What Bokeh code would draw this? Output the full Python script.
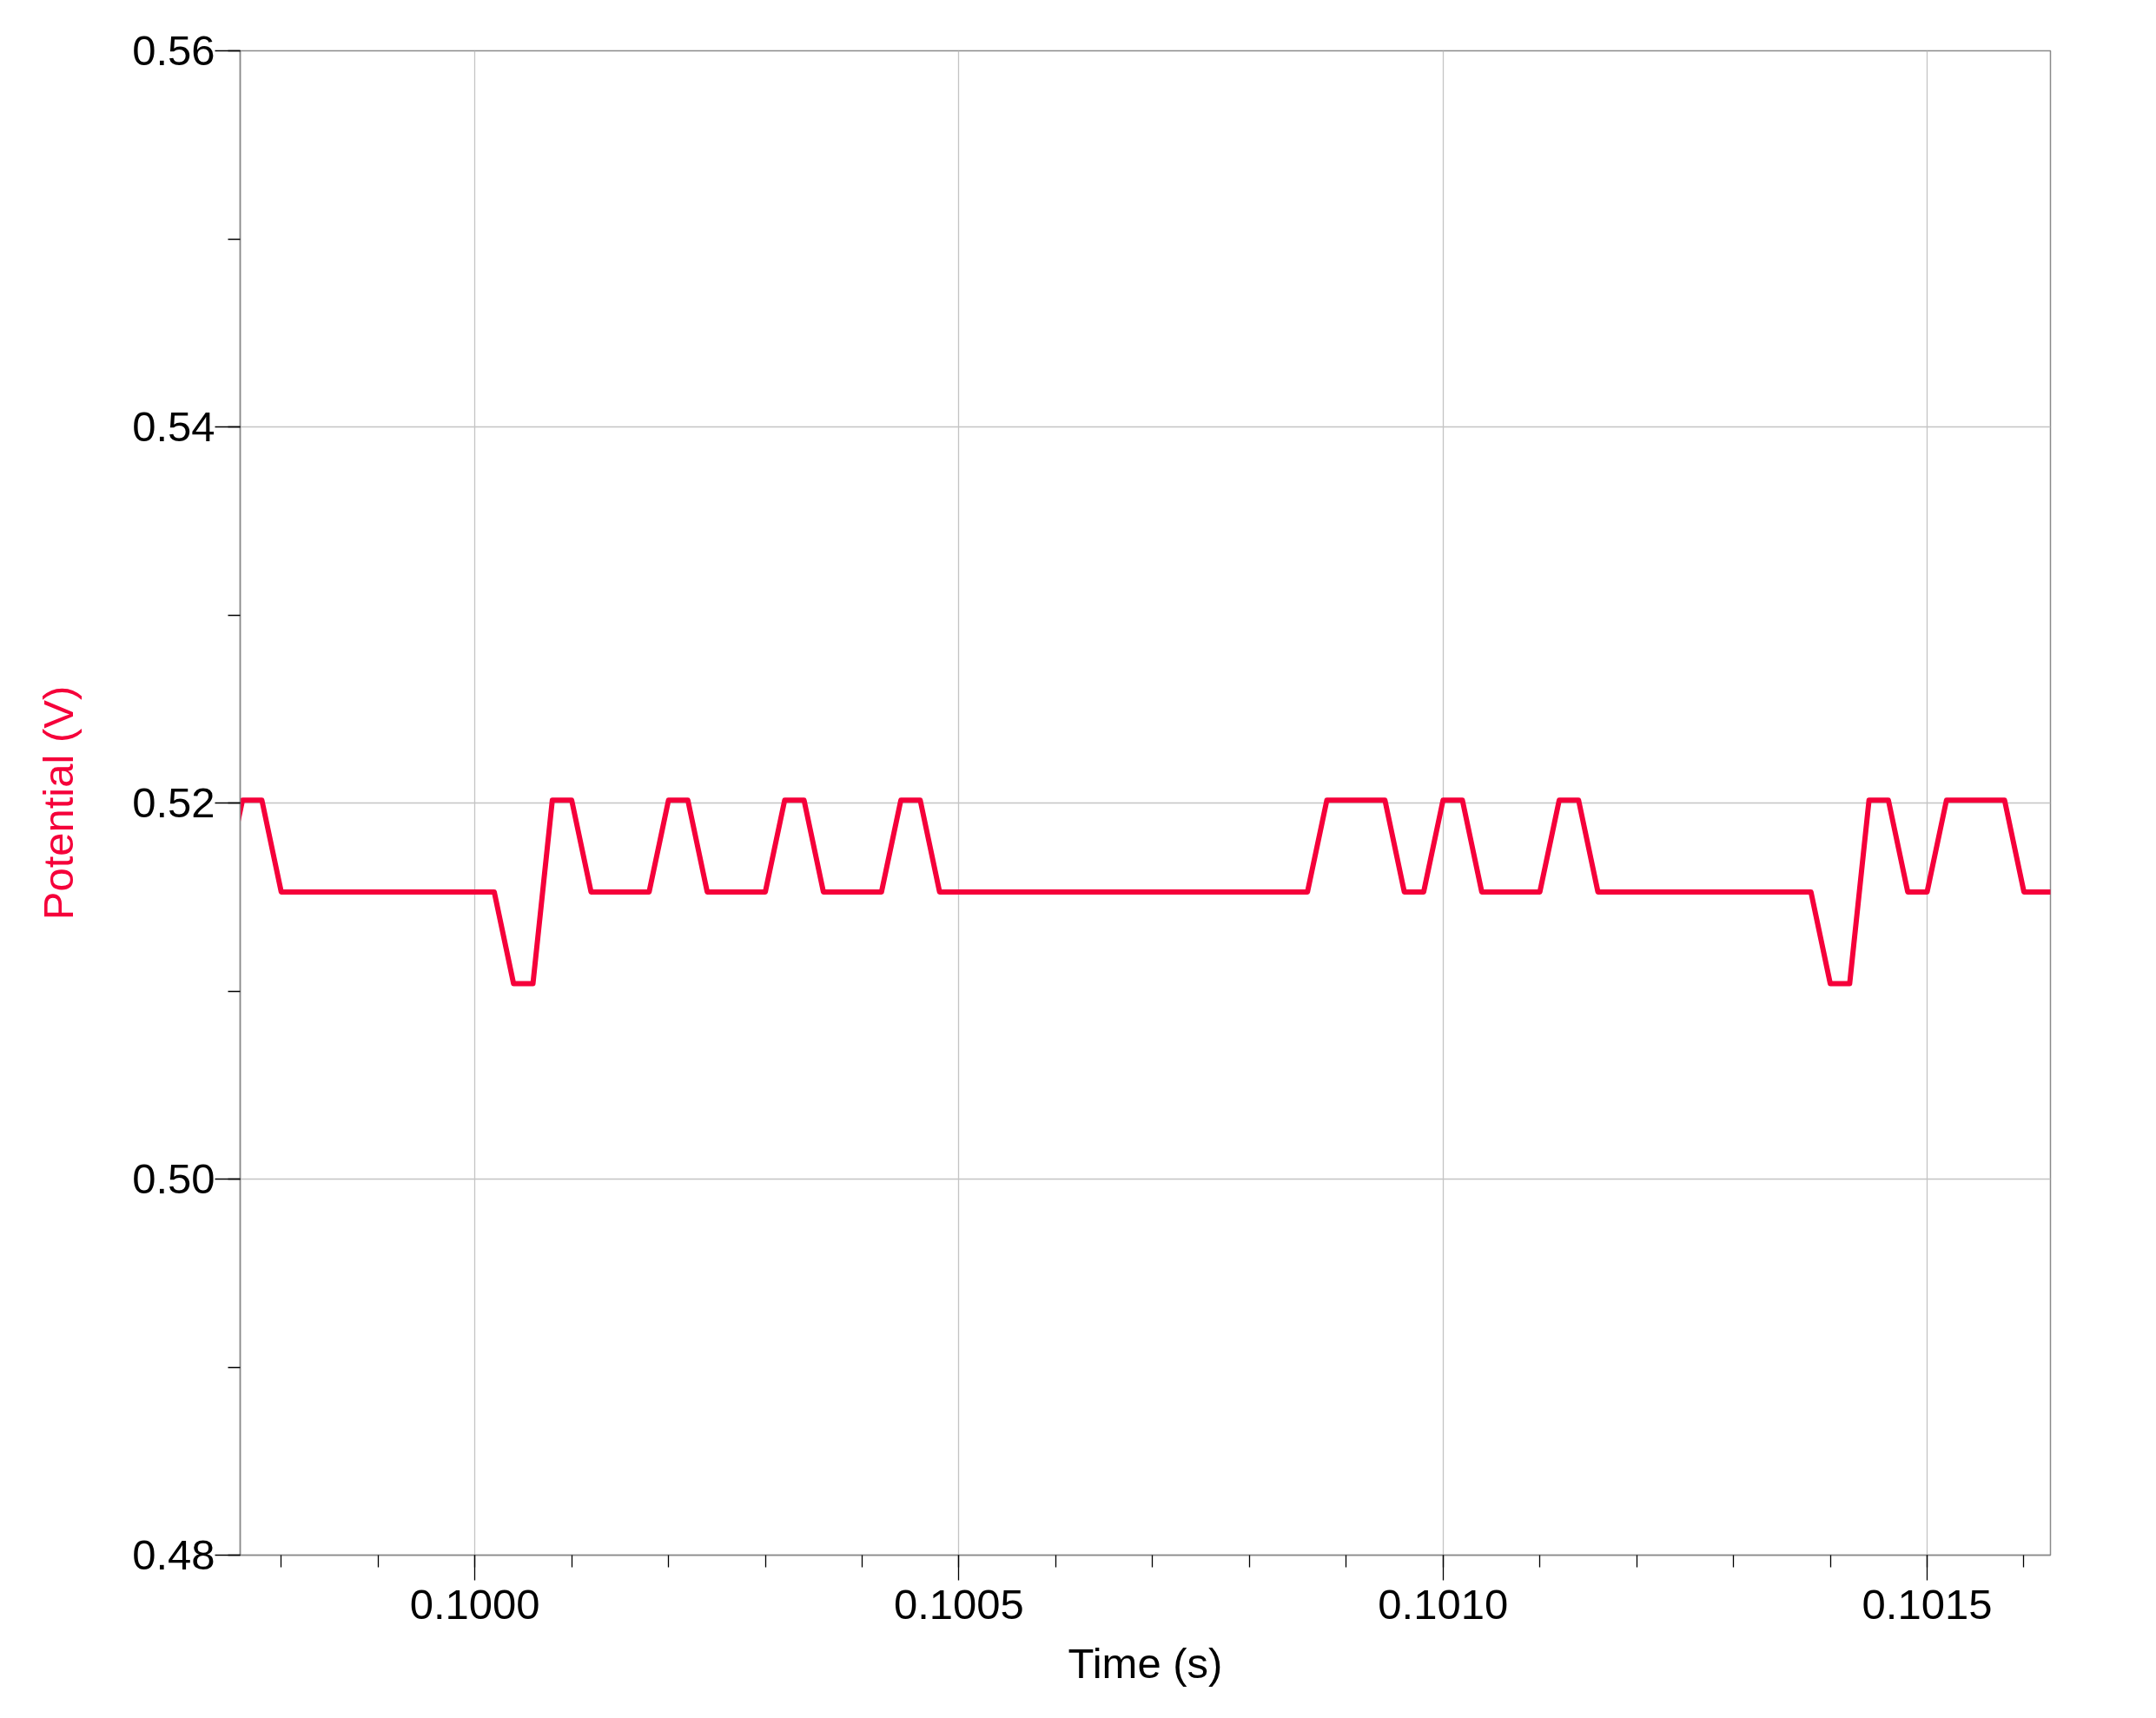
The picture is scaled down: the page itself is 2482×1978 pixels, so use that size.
from bokeh.plotting import figure
from bokeh.models import Range1d, SingleIntervalTicker, PrintfTickFormatter
from bokeh.embed import file_html
from bokeh.resources import INLINE

time_s = [
    0.09974, 0.09976, 0.09978, 0.09980, 0.09982, 0.09984, 0.09986, 0.09988, 0.09990, 0.09992, 0.09994, 0.09996, 0.09998,
    0.10000, 0.10002, 0.10004, 0.10006, 0.10008, 0.10010, 0.10012, 0.10014, 0.10016, 0.10018,
    0.10020, 0.10022, 0.10024, 0.10026, 0.10028, 0.10030, 0.10032, 0.10034, 0.10036, 0.10038,
    0.10040, 0.10042, 0.10044, 0.10046, 0.10048, 0.10050, 0.10052, 0.10054, 0.10056, 0.10058,
    0.10060, 0.10062, 0.10064, 0.10066, 0.10068, 0.10070, 0.10072, 0.10074, 0.10076, 0.10078,
    0.10080, 0.10082, 0.10084, 0.10086, 0.10088, 0.10090, 0.10092, 0.10094, 0.10096, 0.10098,
    0.10100, 0.10102, 0.10104, 0.10106, 0.10108, 0.10110, 0.10112, 0.10114, 0.10116, 0.10118,
    0.10120, 0.10122, 0.10124, 0.10126, 0.10128, 0.10130, 0.10132, 0.10134, 0.10136, 0.10138,
    0.10140, 0.10142, 0.10144, 0.10146, 0.10148, 0.10150, 0.10152, 0.10154, 0.10156, 0.10158,
    0.10160, 0.10162, 0.10164,
]
potential_v = [
    0.51527, 0.52015, 0.52015, 0.51527, 0.51527, 0.51527, 0.51527, 0.51527, 0.51527, 0.51527, 0.51527, 0.51527, 0.51527,
    0.51527, 0.51527, 0.51039, 0.51039, 0.52015, 0.52015, 0.51527, 0.51527, 0.51527, 0.51527,
    0.52015, 0.52015, 0.51527, 0.51527, 0.51527, 0.51527, 0.52015, 0.52015, 0.51527, 0.51527,
    0.51527, 0.51527, 0.52015, 0.52015, 0.51527, 0.51527, 0.51527, 0.51527, 0.51527, 0.51527,
    0.51527, 0.51527, 0.51527, 0.51527, 0.51527, 0.51527, 0.51527, 0.51527, 0.51527, 0.51527,
    0.51527, 0.51527, 0.51527, 0.51527, 0.52015, 0.52015, 0.52015, 0.52015, 0.51527, 0.51527,
    0.52015, 0.52015, 0.51527, 0.51527, 0.51527, 0.51527, 0.52015, 0.52015, 0.51527, 0.51527,
    0.51527, 0.51527, 0.51527, 0.51527, 0.51527, 0.51527, 0.51527, 0.51527, 0.51527, 0.51527,
    0.51039, 0.51039, 0.52015, 0.52015, 0.51527, 0.51527, 0.52015, 0.52015, 0.52015, 0.52015,
    0.51527, 0.51527, 0.51527,
]

x_label = "Time (s)"
y_label = "Potential (V)"

RED = "#F5003A"
FONT = "Liberation Sans"

p = figure(
    width=2466, height=1962,
    output_backend="svg", toolbar_location=None,
    x_range=Range1d(0.0997576, 0.1016274),
    y_range=Range1d(0.48, 0.56),
    min_border_left=276, min_border_right=106,
    min_border_top=58, min_border_bottom=172,
    background_fill_color="white", border_fill_color="white",
)

p.line(time_s, potential_v, line_color=RED, line_width=6, line_join="round")

# Axes
p.xaxis.ticker = SingleIntervalTicker(interval=0.0005, num_minor_ticks=5)
p.yaxis.ticker = SingleIntervalTicker(interval=0.02, num_minor_ticks=2)
p.xaxis.formatter = PrintfTickFormatter(format="%.4f")
p.yaxis.formatter = PrintfTickFormatter(format="%.2f")

for ax in (p.xaxis, p.yaxis):
    ax.axis_line_color = "#8a8a8a"
    ax.axis_line_width = 1.5
    ax.major_tick_line_color = "black"
    ax.minor_tick_line_color = "black"
    ax.major_tick_line_width = 1.3
    ax.minor_tick_line_width = 1.3
    ax.major_tick_in = 0
    ax.minor_tick_in = 0
    ax.major_tick_out = 29
    ax.minor_tick_out = 14
    ax.major_label_text_font = FONT
    ax.major_label_text_font_size = "49px"
    ax.major_label_text_color = "black"
    ax.axis_label_text_font = FONT
    ax.axis_label_text_font_size = "49px"
    ax.axis_label_text_font_style = "normal"

p.xaxis.axis_label = x_label
p.yaxis.axis_label = y_label
p.xaxis.axis_label_text_color = "black"
p.yaxis.axis_label_text_color = RED
p.xaxis.major_label_standoff = 11
p.yaxis.major_label_standoff = 0
p.xaxis.axis_label_standoff = 21
p.yaxis.axis_label_standoff = 55

p.grid.grid_line_color = "#c4c4c4"
p.grid.grid_line_width = 1.3
p.outline_line_color = "#8a8a8a"
p.outline_line_width = 1.5

open("out.html", "w").write(file_html(p, INLINE))
